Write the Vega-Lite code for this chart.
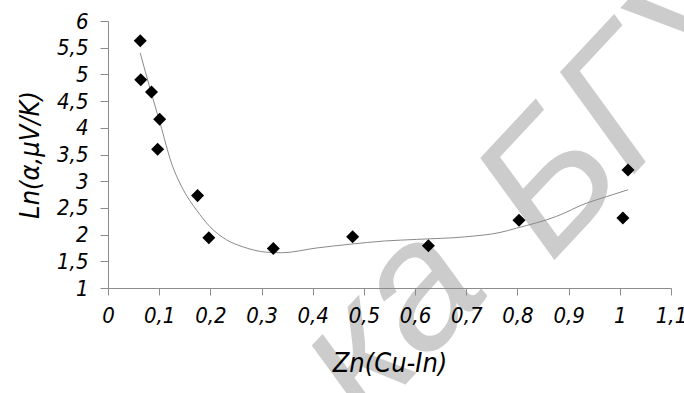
{
  "$schema": "https://vega.github.io/schema/vega-lite/v6.json",
  "autosize": {"type": "none"},
  "width": 563,
  "height": 267,
  "padding": {"left": 108, "top": 21, "right": 13, "bottom": 105},
  "background": "white",
  "config": {
    "view": {"stroke": null},
    "axis": {
      "grid": false,
      "domainColor": "#8c8c8c",
      "tickColor": "#8c8c8c",
      "labelFont": "DejaVu Sans Condensed, Roboto",
      "labelFontStyle": "italic",
      "labelFontSize": 22,
      "labelColor": "black",
      "labelFlush": false,
      "labelOverlap": false,
      "titleFont": "DejaVu Sans Condensed, Roboto",
      "titleFontStyle": "italic",
      "titleFontWeight": "normal",
      "titleFontSize": 27,
      "titleColor": "black"
    }
  },
  "datasets": {
    "points": [
      {"zn": 0.063, "ln": 5.63},
      {"zn": 0.064, "ln": 4.9},
      {"zn": 0.085, "ln": 4.67},
      {"zn": 0.101, "ln": 4.16},
      {"zn": 0.097, "ln": 3.6},
      {"zn": 0.175, "ln": 2.73},
      {"zn": 0.197, "ln": 1.94},
      {"zn": 0.323, "ln": 1.74},
      {"zn": 0.478, "ln": 1.96},
      {"zn": 0.626, "ln": 1.79},
      {"zn": 0.803, "ln": 2.27},
      {"zn": 1.006, "ln": 2.31},
      {"zn": 1.016, "ln": 3.21}
    ],
    "trend": [
      {"zn": 0.063, "ln": 5.4},
      {"zn": 0.082, "ln": 4.74},
      {"zn": 0.102, "ln": 4.08},
      {"zn": 0.124, "ln": 3.34},
      {"zn": 0.147, "ln": 2.84},
      {"zn": 0.173, "ln": 2.46},
      {"zn": 0.199, "ln": 2.15},
      {"zn": 0.232, "ln": 1.9},
      {"zn": 0.264, "ln": 1.77},
      {"zn": 0.31, "ln": 1.67},
      {"zn": 0.339, "ln": 1.66},
      {"zn": 0.408, "ln": 1.75},
      {"zn": 0.473, "ln": 1.82},
      {"zn": 0.54, "ln": 1.88},
      {"zn": 0.603, "ln": 1.91},
      {"zn": 0.7, "ln": 1.96},
      {"zn": 0.766, "ln": 2.04},
      {"zn": 0.798, "ln": 2.12},
      {"zn": 0.876, "ln": 2.34},
      {"zn": 0.935, "ln": 2.59},
      {"zn": 0.974, "ln": 2.71},
      {"zn": 1.016, "ln": 2.84}
    ]
  },
  "layer": [
    {
      "data": {"values": [{"label": "ка"}]},
      "mark": {
        "type": "text",
        "font": "Liberation Sans",
        "fontStyle": "italic",
        "fontSize": 180,
        "color": "#cccccc",
        "angle": -47,
        "align": "right",
        "baseline": "alphabetic"
      },
      "encoding": {
        "x": {
          "datum": 0.752,
          "type": "quantitative",
          "scale": {"domain": [0, 1.1], "nice": false, "zero": false},
          "axis": {
            "zindex": 1,
            "title": "Zn(Cu-In)",
            "values": [0, 0.1, 0.2, 0.3, 0.4, 0.5, 0.6, 0.7, 0.8, 0.9, 1, 1.1],
            "labelExpr": "replace(format(datum.value, '~g'), '.', ',')",
            "tickSize": 7,
            "labelPadding": 10,
            "titlePadding": 24
          }
        },
        "y": {
          "datum": 0.95,
          "type": "quantitative",
          "scale": {"domain": [1, 6], "nice": false, "zero": false},
          "axis": {
            "zindex": 1,
            "title": "Ln(α,μV/K)",
            "values": [1, 1.5, 2, 2.5, 3, 3.5, 4, 4.5, 5, 5.5, 6],
            "labelExpr": "replace(format(datum.value, '~g'), '.', ',')",
            "tickSize": 8,
            "labelPadding": 12,
            "titlePadding": 12
          }
        },
        "text": {"field": "label"}
      }
    },
    {
      "data": {"values": [{"label": "БГУ"}]},
      "mark": {
        "type": "text",
        "font": "Liberation Sans",
        "fontStyle": "italic",
        "fontSize": 180,
        "color": "#cccccc",
        "angle": -47,
        "align": "left",
        "baseline": "alphabetic"
      },
      "encoding": {
        "x": {
          "datum": 0.865,
          "type": "quantitative",
          "scale": {"domain": [0, 1.1], "nice": false, "zero": false},
          "axis": {
            "zindex": 1,
            "title": "Zn(Cu-In)",
            "values": [0, 0.1, 0.2, 0.3, 0.4, 0.5, 0.6, 0.7, 0.8, 0.9, 1, 1.1],
            "labelExpr": "replace(format(datum.value, '~g'), '.', ',')",
            "tickSize": 7,
            "labelPadding": 10,
            "titlePadding": 24
          }
        },
        "y": {
          "datum": 1.45,
          "type": "quantitative",
          "scale": {"domain": [1, 6], "nice": false, "zero": false},
          "axis": {
            "zindex": 1,
            "title": "Ln(α,μV/K)",
            "values": [1, 1.5, 2, 2.5, 3, 3.5, 4, 4.5, 5, 5.5, 6],
            "labelExpr": "replace(format(datum.value, '~g'), '.', ',')",
            "tickSize": 8,
            "labelPadding": 12,
            "titlePadding": 12
          }
        },
        "text": {"field": "label"}
      }
    },
    {
      "data": {"name": "trend"},
      "mark": {"type": "line", "color": "#8a8a8a", "strokeWidth": 1, "interpolate": "monotone"},
      "encoding": {
        "x": {
          "field": "zn",
          "type": "quantitative",
          "scale": {"domain": [0, 1.1], "nice": false, "zero": false},
          "axis": {
            "zindex": 1,
            "title": "Zn(Cu-In)",
            "values": [0, 0.1, 0.2, 0.3, 0.4, 0.5, 0.6, 0.7, 0.8, 0.9, 1, 1.1],
            "labelExpr": "replace(format(datum.value, '~g'), '.', ',')",
            "tickSize": 7,
            "labelPadding": 10,
            "titlePadding": 24
          }
        },
        "y": {
          "field": "ln",
          "type": "quantitative",
          "scale": {"domain": [1, 6], "nice": false, "zero": false},
          "axis": {
            "zindex": 1,
            "title": "Ln(α,μV/K)",
            "values": [1, 1.5, 2, 2.5, 3, 3.5, 4, 4.5, 5, 5.5, 6],
            "labelExpr": "replace(format(datum.value, '~g'), '.', ',')",
            "tickSize": 8,
            "labelPadding": 12,
            "titlePadding": 12
          }
        }
      }
    },
    {
      "data": {"name": "points"},
      "mark": {"type": "point", "shape": "diamond", "filled": true, "color": "black", "opacity": 1, "size": 170},
      "encoding": {
        "x": {
          "field": "zn",
          "type": "quantitative",
          "scale": {"domain": [0, 1.1], "nice": false, "zero": false},
          "axis": {
            "zindex": 1,
            "title": "Zn(Cu-In)",
            "values": [0, 0.1, 0.2, 0.3, 0.4, 0.5, 0.6, 0.7, 0.8, 0.9, 1, 1.1],
            "labelExpr": "replace(format(datum.value, '~g'), '.', ',')",
            "tickSize": 7,
            "labelPadding": 10,
            "titlePadding": 24
          }
        },
        "y": {
          "field": "ln",
          "type": "quantitative",
          "scale": {"domain": [1, 6], "nice": false, "zero": false},
          "axis": {
            "zindex": 1,
            "title": "Ln(α,μV/K)",
            "values": [1, 1.5, 2, 2.5, 3, 3.5, 4, 4.5, 5, 5.5, 6],
            "labelExpr": "replace(format(datum.value, '~g'), '.', ',')",
            "tickSize": 8,
            "labelPadding": 12,
            "titlePadding": 12
          }
        }
      }
    }
  ]
}
